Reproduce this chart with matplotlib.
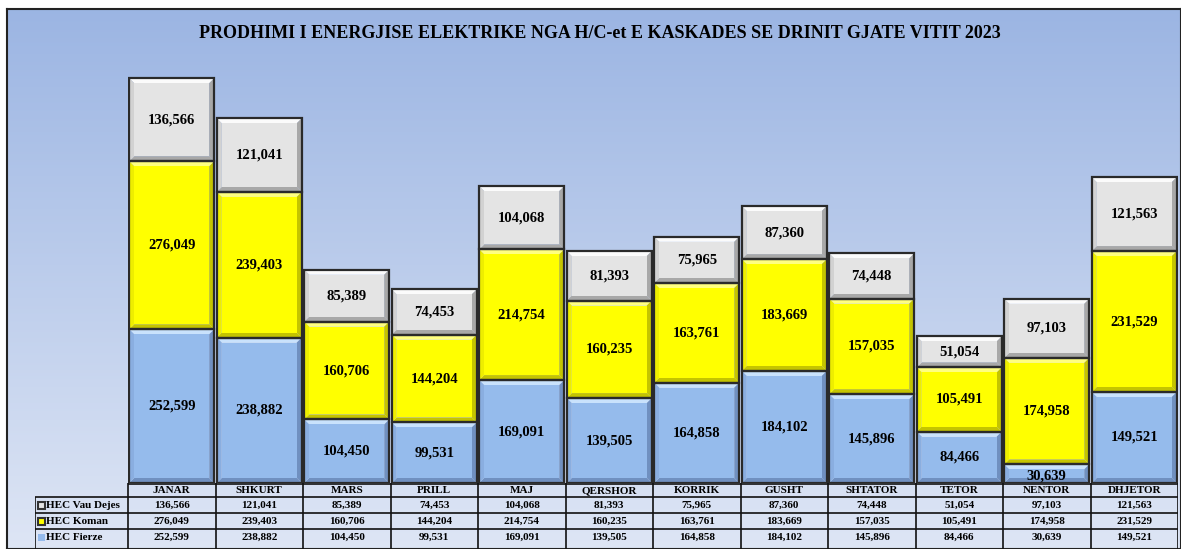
import matplotlib.pyplot as plt
import matplotlib.patches as mpatches
import numpy as np

# monthly production (MWh) for the Drin cascade plants, 2023
months = ["JANAR", "SHKURT", "MARS", "PRILL", "MAJ", "QERSHOR",
          "KORRIK", "GUSHT", "SHTATOR", "TETOR", "NENTOR", "DHJETOR"]
fierze = [252599, 238882, 104450, 99531, 169091, 139505,
          164858, 184102, 145896, 84466, 30639, 149521]
koman = [276049, 239403, 160706, 144204, 214754, 160235,
         163761, 183669, 157035, 105491, 174958, 231529]
vau_dejes = [136566, 121041, 85389, 74453, 104068, 81393,
             75965, 87360, 74448, 51054, 97103, 121563]

series_names = ["HEC Vau Dejes", "HEC Koman", "HEC Fierze"]

W, H = 1181, 549
fig = plt.figure(figsize=(W / 100, H / 100), dpi=100)
plt.rcParams['font.family'] = ['Liberation Serif', 'DejaVu Serif']

# background gradient + frame
bg = fig.add_axes([7 / W, 0, 1 - 7 / W, 1 - 9 / H])
grad = np.linspace(0, 1, 256).reshape(-1, 1)
top_c = np.array([0.61, 0.71, 0.89])
bot_c = np.array([0.87, 0.90, 0.96])
img = top_c + (bot_c - top_c) * grad[:, :, None]
bg.imshow(img, aspect='auto', extent=[0, 1, 0, 1], origin='upper')
bg.set_xticks([])
bg.set_yticks([])
for s in bg.spines.values():
    s.set_linewidth(1.5)
    s.set_color('#222222')

fig.text(0.508, 1 - 33 / H,
         "PRODHIMI I ENERGJISE ELEKTRIKE NGA H/C-et E KASKADES SE DRINIT GJATE VITIT 2023",
         ha='center', va='center', fontsize=13, fontweight='bold')

# main chart axes
x0, x1 = 128, 1178
ybase, ytop = 483, 57
ax = fig.add_axes([x0 / W, (H - ybase) / H, (x1 - x0) / W, (ybase - ytop) / H])
ax.set_xlim(-0.5, 11.5)
ax.set_ylim(0, 700000)
ax.axis('off')

px_x = 12 / (x1 - x0)
px_y = 700000 / (ybase - ytop)

styles = {
    "HEC Fierze": dict(face='#95bbec', light='#c9e2fc', dark='#7090c0', side='#8aaee0'),
    "HEC Koman": dict(face='#ffff00', light='#ffff80', dark='#c4c400', side='#eeee00'),
    "HEC Vau Dejes": dict(face='#e4e4e4', light='#fbfbfb', dark='#a8a8a8', side='#d2d2d2'),
}


def bevel_box(ax, xc, bottom, height, width, st):
    l, r = xc - width / 2, xc + width / 2
    b, t = bottom, bottom + height
    bpx = 5
    bx = bpx * px_x
    by = min(bpx * px_y, height / 3)
    bxi = bx * by / (bpx * px_y)
    il, ir, ib, it = l + bxi, r - bxi, b + by, t - by
    ax.add_patch(mpatches.Polygon([[l, t], [r, t], [ir, it], [il, it]], closed=True,
                                  fc=st['light'], ec='none', zorder=3))
    ax.add_patch(mpatches.Polygon([[l, b], [r, b], [ir, ib], [il, ib]], closed=True,
                                  fc=st['dark'], ec='none', zorder=3))
    ax.add_patch(mpatches.Polygon([[l, b], [l, t], [il, it], [il, ib]], closed=True,
                                  fc=st['side'], ec='none', zorder=3))
    ax.add_patch(mpatches.Polygon([[r, b], [r, t], [ir, it], [ir, ib]], closed=True,
                                  fc=st['dark'], ec='none', zorder=3))
    ax.add_patch(mpatches.Rectangle((il, ib), ir - il, it - ib, fc=st['face'],
                                    ec='none', zorder=4))
    ax.add_patch(mpatches.Rectangle((l, b), r - l, t - b, fc='none',
                                    ec='#2a2a2a', lw=1.6, zorder=5))


xs = np.arange(len(months))
width = 85 * px_x
bottoms = np.zeros(len(months))
for name, vals in [("HEC Fierze", fierze), ("HEC Koman", koman), ("HEC Vau Dejes", vau_dejes)]:
    for i, v in enumerate(vals):
        bevel_box(ax, xs[i], bottoms[i], v, width, styles[name])
        yl = bottoms[i] + v / 2
        if v < 40000:
            yl = bottoms[i] + v * 0.35
        ax.text(xs[i], yl, f"{v:,}", ha='center', va='center', fontsize=10.5,
                fontweight='bold', zorder=6)
    bottoms += np.array(vals)

# data table under the chart
tl = 35
left_units = (x0 - tl) * px_x
tab = fig.add_axes([tl / W, 0, (x1 - tl) / W, (H - ybase) / H])
tab.set_xlim(-0.5 - left_units, 11.5)
row_h = 16
n_px = H - ybase
tab.set_ylim(n_px, 0)
tab.axis('off')

header_h = 14
row_tops = [header_h + k * row_h for k in range(4)]
table_rows = [vau_dejes, koman, fierze]

for i, m in enumerate(months):
    tab.text(xs[i], header_h / 2 + 0.5, m, ha='center', va='center', fontsize=8,
             fontweight='bold')
for k, (name, vals) in enumerate(zip(series_names, table_rows)):
    yc = row_tops[k] + row_h / 2
    for i, v in enumerate(vals):
        tab.text(xs[i], yc, f"{v:,}", ha='center', va='center', fontsize=8,
                 fontweight='bold')
    tab.text(-0.5 - left_units + 11 * px_x, yc, name, ha='left', va='center',
             fontsize=8, fontweight='bold')
    st = styles[name]
    kx = -0.5 - left_units + 3 * px_x
    tab.add_patch(mpatches.Rectangle((kx, yc - 3.5), 7 * px_x, 7, fc=st['face'],
                                     ec='#333333' if name != "HEC Fierze" else 'none',
                                     lw=1.5, zorder=3))

# grid lines of the table
lc = '#111111'
tab.hlines([0.5], -0.5, 11.5, color=lc, lw=1.2)
tab.hlines(row_tops[:3], -0.5 - left_units, 11.5, color=lc, lw=1.2)
tab.vlines(np.arange(-0.5, 12.0, 1.0), 0, n_px, color=lc, lw=1.2)
tab.vlines([-0.5 - left_units], row_tops[0], n_px, color=lc, lw=1.2)

fig.savefig("out.png", dpi=100)
